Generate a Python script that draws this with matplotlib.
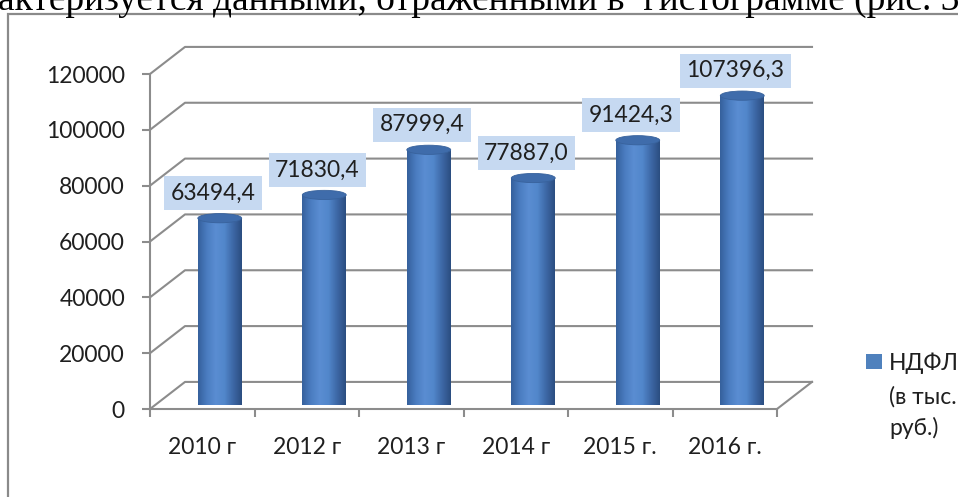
import numpy as np
import matplotlib
matplotlib.use("Agg")
import matplotlib.pyplot as plt
from matplotlib.patches import Rectangle, Ellipse, PathPatch, Patch
from matplotlib.path import Path
from matplotlib.colors import LinearSegmentedColormap

plt.rcParams['font.family'] = ['Lato', 'Open Sans', 'DejaVu Sans']

# =========================
# Data
# =========================
years = ["2010 г", "2012 г", "2013 г", "2014 г", "2015 г.", "2016 г."]
ndfl = [63494.4, 71830.4, 87999.4, 77887.0, 91424.3, 107396.3]
labels = ["63494,4", "71830,4", "87999,4", "77887,0", "91424,3", "107396,3"]
yticks = [0, 20000, 40000, 60000, 80000, 100000, 120000]
legend_label = "НДФЛ"
legend_rest = "(в тыс.\nруб.)"
caption = "актеризуется данными, отраженными в  гистограмме (рис. 3"

# =========================
# Style
# =========================
GRID = "#8c8c8c"
BOX = "#c6d9f1"
TOP = "#3f6cab"
DX = 0.335      # depth offset in category units
DY = 9700       # depth offset in value units
HALF_W = 0.21   # cylinder half width
ELL_H = 3300    # ellipse height in value units

cyl_cmap = LinearSegmentedColormap.from_list(
    "cyl", ["#35609c", "#4a7cc0", "#5a8dd2", "#5287cb", "#3d68a6", "#2b4d80"])

fig = plt.figure(figsize=(9.58, 4.97), dpi=100)
ax = fig.add_axes([150/958, 88/497, 627/958, 335/497])
n = len(years)
ax.set_xlim(-0.5, n - 0.5)
ax.set_ylim(0, 120000)

# back wall / side wall gridlines
for v in yticks:
    ax.plot([-0.5, -0.5 + DX, n - 0.5 + DX], [v, v + DY, v + DY],
            color=GRID, lw=1.5, clip_on=False, zorder=1)
ax.plot([n - 0.5 + DX, n - 0.5], [DY, 0], color=GRID, lw=1.5,
        clip_on=False, zorder=1)

# cylinders
grad = np.linspace(0, 1, 256).reshape(1, -1)
t = np.linspace(np.pi, 2*np.pi, 40)
for i, v in enumerate(ndfl):
    cx = i + DX/2
    base = DY/2
    top = v + DY/2
    xl, xr = cx - HALF_W, cx + HALF_W
    verts = [(xl, top), (xl, base)]
    verts += list(zip(cx + HALF_W*np.cos(t), base + ELL_H/2*np.sin(t)))
    verts += [(xr, top), (xl, top)]
    codes = [Path.MOVETO] + [Path.LINETO]*(len(verts) - 2) + [Path.CLOSEPOLY]
    body = PathPatch(Path(verts, codes), facecolor="none", edgecolor="none",
                     zorder=2, clip_on=False)
    ax.add_patch(body)
    im = ax.imshow(grad, cmap=cyl_cmap, aspect="auto", zorder=2,
                   extent=(xl, xr, base - ELL_H, top), clip_on=False)
    im.set_clip_path(body)
    ax.add_patch(Ellipse((cx, top), 2*HALF_W, ELL_H, facecolor=TOP,
                         edgecolor="#38629c", lw=0.6, zorder=3, clip_on=False))
    ax.annotate(labels[i], xy=(cx, top), xytext=(-7, 25),
                textcoords="offset pixels", ha="center", va="center",
                fontsize=16.5, color="#1f1f1f", zorder=5,
                bbox=dict(boxstyle="square,pad=0.28", fc=BOX, ec="none"))

# axes
for s in ["top", "right"]:
    ax.spines[s].set_visible(False)
for s in ["left", "bottom"]:
    ax.spines[s].set_color(GRID)
    ax.spines[s].set_linewidth(1.5)
ax.set_yticks(yticks)
ax.set_yticklabels([str(v) for v in yticks])
ax.tick_params(axis="y", length=6, width=1.5, color=GRID, pad=12,
               labelsize=16.5, labelcolor="#1f1f1f")
ax.set_xticks(np.arange(n + 1) - 0.5)
ax.set_xticklabels([])
ax.set_xticks(np.arange(n), minor=True)
ax.set_xticklabels(years, minor=True)
ax.tick_params(axis="x", which="major", length=6, width=1.5, color=GRID)
ax.tick_params(axis="x", which="minor", length=0, pad=20,
               labelsize=16.5, labelcolor="#1f1f1f")

# legend
leg = ax.legend(handles=[Patch(facecolor="#4f81bd")], labels=[legend_label],
                loc="upper left", bbox_to_anchor=(866/958, 1 - 352/497),
                bbox_transform=fig.transFigure, frameon=False,
                handlelength=0.68, handleheight=0.68, handletextpad=0.3,
                borderaxespad=0, borderpad=0, fontsize=16.5)
for txt in leg.get_texts():
    txt.set_color("#1f1f1f")
fig.text(889/958, 1 - 386/497, legend_rest, fontsize=16.5, color="#1f1f1f",
         va="top", ha="left", linespacing=1.5)

# chart frame and caption text above it
fig.add_artist(Rectangle((8/958, -0.1), 1.2, (497 - 14)/497 + 0.1,
                         transform=fig.transFigure, fill=False,
                         edgecolor="#8a8a8a", lw=1.6))
fig.text(-2/958, 1 - 10/497, caption, fontsize=27, family="Liberation Serif",
         va="baseline", ha="left", color="black")

fig.savefig("out.png", dpi=100)
